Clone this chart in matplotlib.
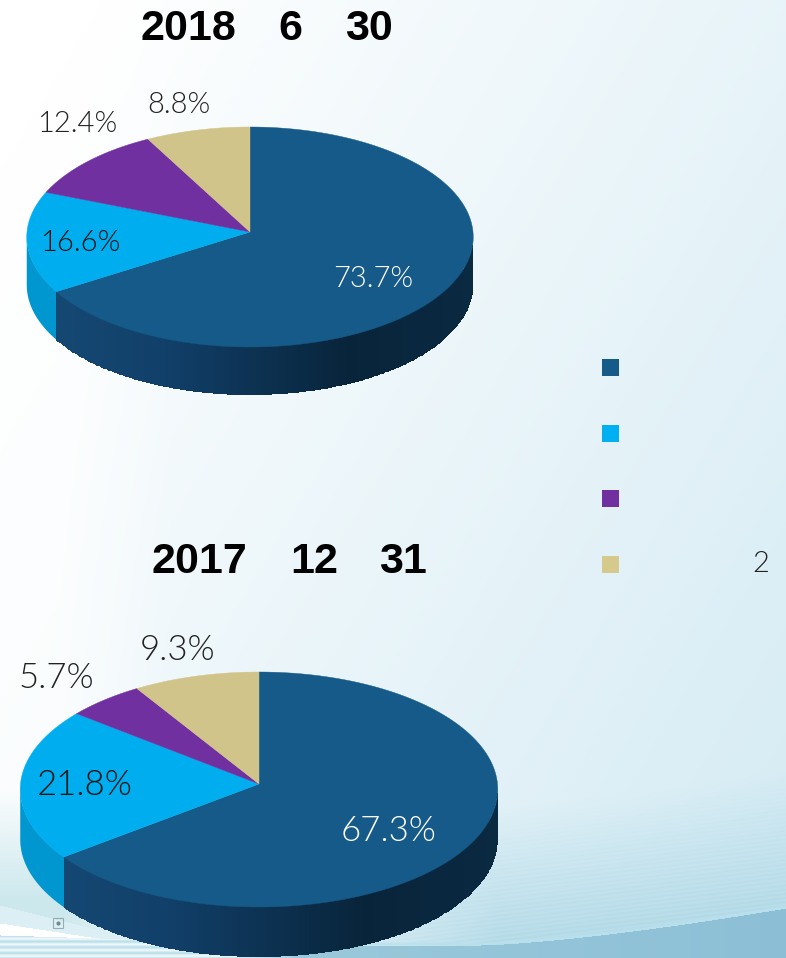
import numpy as np
import matplotlib
matplotlib.use('Agg')
import matplotlib.pyplot as plt
from matplotlib.colors import LinearSegmentedColormap

W, H = 786, 958

# values as printed on the slices (they do not add up to 100, the pie normalises them)
values_2018 = [73.7, 16.6, 12.4, 8.8]
values_2017 = [67.3, 21.8, 5.7, 9.3]
labels_2018 = ['73.7%', '16.6%', '12.4%', '8.8%']
labels_2017 = ['67.3%', '21.8%', '5.7%', '9.3%']
colors = ['#155a88', '#00aeef', '#7030a0', '#d1c48a']
legend_y = [367.5, 433.5, 498.5, 564.5]

plt.rcParams['font.family'] = ['Lato', 'DejaVu Sans']

fig = plt.figure(figsize=(W / 100, H / 100), dpi=100)
ax = fig.add_axes([0, 0, 1, 1])
ax.set_xlim(0, W)
ax.set_ylim(H, 0)
ax.axis('off')


def mix(img, col, amount):
    return img + (np.array(col) - img) * amount[..., None]


def background():
    yy, xx = np.mgrid[0:H, 0:W].astype(float)
    x = xx / W
    y = yy / H
    t = np.clip(0.62 * x + 0.45 * y - 0.08, 0, 1) * np.clip(xx / 170, 0.35, 1)
    img = mix(np.ones((H, W, 3)), (0.83, 0.92, 0.955), t)

    # the sweep in the lower right, darker as it nears its edge
    curve = 945 - 37 * (np.clip(xx - 480, 0, None) / 306) ** 1.4
    near = np.clip((yy - (curve - 140)) / 140, 0, 1) * np.clip((xx - 300) / 200, 0, 1)
    img = mix(img, (0.70, 0.85, 0.90), near)
    stripes = 0.5 + 0.5 * np.sin((yy + 0.12 * xx) * 1.5)
    img = img + 0.02 * (stripes * near)[..., None]
    img = mix(img, (0.73, 0.88, 0.93), np.clip(1 - np.abs(yy - curve + 1.5) / 2.5, 0, 1))
    band = np.where(yy > curve, 1.0, 0.0)
    shade = np.clip((xx - 250) / 536, 0, 1)[..., None]
    low = np.array([0.61, 0.79, 0.86]) + (np.array([0.55, 0.75, 0.84]) - np.array([0.61, 0.79, 0.86])) * shade
    img = img + (low - img) * band[..., None]

    # pale swoosh in the lower left corner
    fade = np.clip((170 - xx) / 110, 0, 1)
    img = mix(img, (0.80, 0.91, 0.93), np.clip((yy - 790) / 110, 0, 1) * fade)
    img = mix(img, (0.86, 0.94, 0.96), np.where(yy > 905 + 0.25 * xx, 1.0, 0.0) * np.clip((200 - xx) / 60, 0, 1))
    low_stripes = 0.5 + 0.5 * np.sin(yy * 1.1)
    lower = np.where(yy > 934 + 0.04 * xx, 1.0, 0.0) * np.clip((300 - xx) / 60, 0, 1)
    img = mix(img, (0.74, 0.88, 0.92), lower)
    img = mix(img, (0.93, 0.97, 0.98), lower * low_stripes)
    white = np.where((yy > 923 + 0.155 * xx) & (yy < 935 + 0.03 * xx), 1.0, 0.0)
    img = mix(img, (1.0, 1.0, 1.0), white)
    ax.imshow(np.clip(img, 0, 1), extent=(0, W, H, 0), aspect='auto', zorder=0, interpolation='bilinear')


def wall_cmap():
    return LinearSegmentedColormap.from_list('wall', [(0, '#154a75'), (0.3, '#11406a'),
                                                      (0.72, '#08243a'), (1, '#0a2a42')])


def pie_3d(values, cx, cy, rx, ry_up, ry_dn, depth):
    # seen in perspective, so the back half is flatter than the front half
    k = (ry_dn - ry_up) / (ry_dn + ry_up)
    ry = 2 * ry_up * ry_dn / (ry_up + ry_dn)
    # angle where the outline is widest, the wall has to stop there
    side = np.degrees(np.arcsin(k))

    def point(deg):
        a = np.radians(deg)
        d = 1 + k * np.sin(a)
        return cx + rx * np.cos(a) / d, cy - ry * np.sin(a) / d

    fracs = np.array(values) / np.sum(values)
    edges = 90 - 360 * np.concatenate([[0], np.cumsum(fracs)])

    # side wall of the second slice, runs on a little under the first one
    a = np.linspace(-180 + side, edges[1] + 1, 60)
    px, py = point(a)
    ax.fill(np.r_[px, px[::-1]], np.r_[py - 0.5, py[::-1] + depth], color='#0096cf', lw=0, zorder=2)

    # side wall of the first slice, from its far edge round to the right
    a = np.linspace(edges[1], -side, 260)
    px, py = point(a)
    X = np.vstack([px, px])
    Y = np.vstack([py - 0.5, py + depth])
    C = ((px[:-1] - (cx - rx)) / (2 * rx)).reshape(1, -1)
    ax.pcolormesh(X, Y, C, cmap=wall_cmap(), vmin=0, vmax=1, shading='flat', zorder=2.1)

    # top face
    for i, c in enumerate(colors):
        a = np.linspace(edges[i], edges[i + 1], 200)
        px, py = point(a)
        ax.fill(np.r_[cx, px], np.r_[cy, py], color=c, lw=0.3, zorder=3)


background()
pie_3d(values_2018, 250, 232, 223, 105, 115, 48)
pie_3d(values_2017, 259, 784, 238.5, 112, 123, 50)

pos_2018 = [(373, 279), (80, 243), (77, 124), (179, 105)]
pos_2017 = [(389, 831), (85, 785), (56, 678), (178, 650)]
for lab, (px, py), col in zip(labels_2018, pos_2018, ['white', '#111111', '#222222', '#222222']):
    ax.text(px, py, lab, fontsize=21, fontweight=300, color=col, ha='center', va='center', zorder=5)
for lab, (px, py), col in zip(labels_2017, pos_2017, ['white', '#111111', '#222222', '#222222']):
    ax.text(px, py, lab, fontsize=25, fontweight=300, color=col, ha='center', va='center', zorder=5)

# titles, the date characters between the numbers are blank in the original
for s, px in [('2018', 188), ('6', 290), ('30', 368.5)]:
    ax.text(px, 29, s, fontsize=31, fontweight='bold', family='Liberation Sans', ha='center', va='center', color='black', zorder=5)
for s, px in [('2017', 199.5), ('12', 314), ('31', 402.5)]:
    ax.text(px, 562, s, fontsize=31, fontweight='bold', family='Liberation Sans', ha='center', va='center', color='black', zorder=5)

# legend keys, legend text is blank in the original except the 2
legend_colors = ['#155a88', '#00b0f0', '#7030a0', '#d6c98c']
ax.scatter([610.5] * 4, legend_y, marker='s', s=(17 * 0.72) ** 2, c=legend_colors, linewidths=0, zorder=4)
ax.text(761, 564, '2', fontsize=21, fontweight=300, color='#222222', ha='center', va='center', zorder=5)

# small handle glyph under the lower pie
ax.plot([58], [923], marker='s', ms=7.5, mfc='none', mec='#8a9ca0', mew=0.8, ls='none', alpha=0.8, zorder=4)
ax.plot([58], [923], marker='o', ms=3, mfc='#6f8a92', mec='none', ls='none', zorder=4)

fig.savefig('out.png', dpi=100)
